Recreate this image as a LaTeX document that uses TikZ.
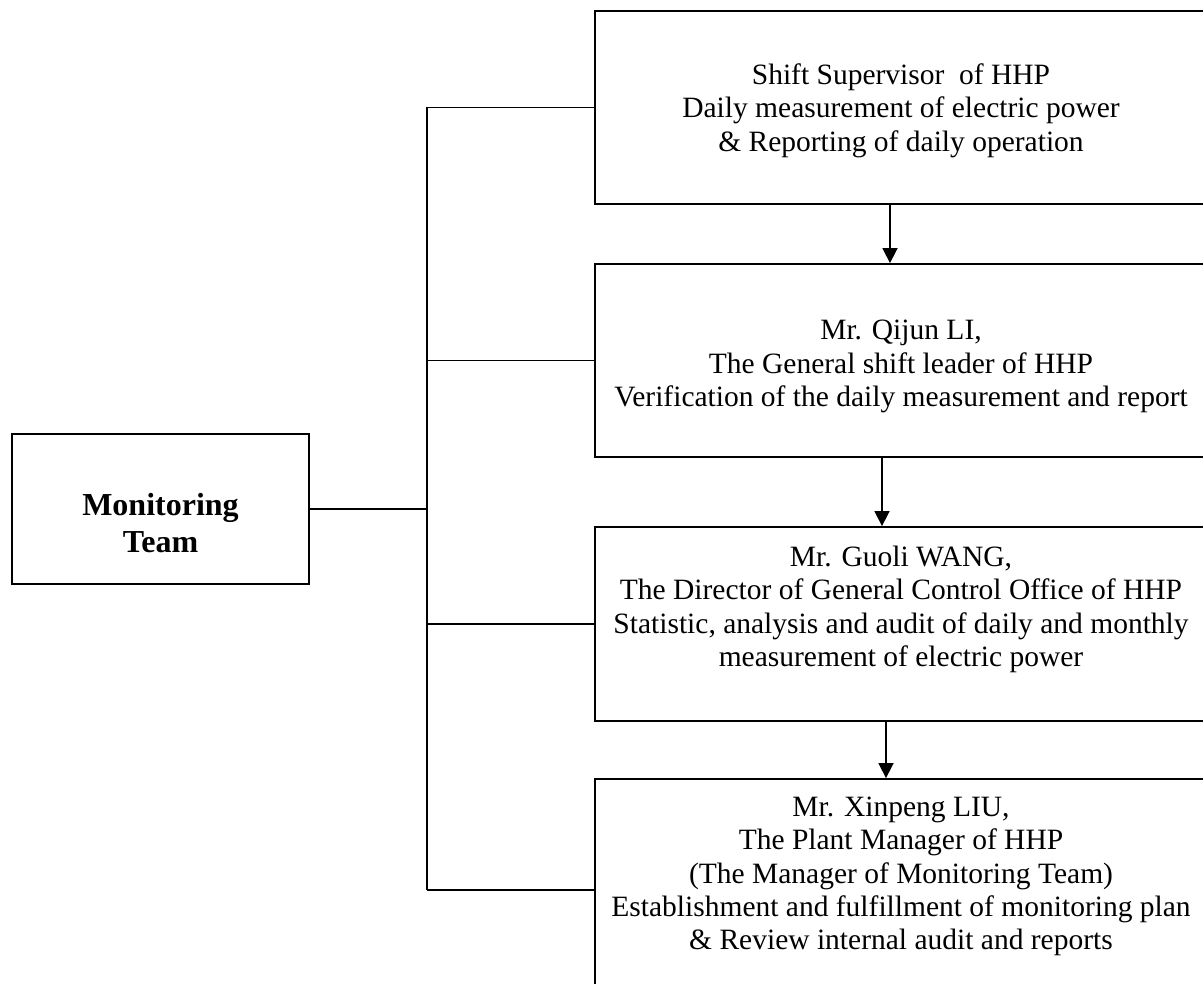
\documentclass[tikz,border=0pt]{standalone}
\usepackage{fontspec}
\setmainfont{Liberation Serif}
\usetikzlibrary{arrows.meta,positioning,calc}

\begin{document}
\begin{tikzpicture}[x=1pt,y=-1pt,
        teambox/.style={draw, rectangle, line width=1.8pt, minimum width=297pt, minimum height=150pt},
        teamtext/.style={align=center, font=\fontsize{32}{37}\selectfont\bfseries},
        dutybox/.style={draw, rectangle, line width=1.8pt, minimum width=612pt},
        dutytext/.style={align=center, font=\fontsize{29.5}{33.4}\selectfont},
        link/.style={line width=1.6pt},
        arrow/.style={-{Triangle[width=15pt,length=15pt]}, line width=1.6pt}
    ]
    \useasboundingbox (0,0) rectangle (1203,984);
    \clip (0,0) rectangle (1203,984);

    \node[teambox] (team) at (160.5,509) {};
    \node[teamtext] (teamlabel) at ([yshift=-14pt]team.center) {Monitoring\\Team};

    \node[dutybox, minimum height=193pt] (shift) at (901,107.5) {};
    \node[dutybox, minimum height=193pt] (leader) at (901,360.5) {};
    \node[dutybox, minimum height=194pt] (director) at (901,624) {};
    \node[dutybox, minimum height=222pt] (manager) at (901,890) {};

    \node[dutytext] (shiftlabel) at ([yshift=-3pt]shift.center) {Shift Supervisor~ of HHP\\Daily measurement of electric power\\\& Reporting of daily operation};
    \node[dutytext] (leaderlabel) at ([yshift=-6pt]leader.center) {Mr. Qijun LI,\\The General shift leader of HHP\\Verification of the daily measurement and report};
    \node[dutytext] (directorlabel) at ([yshift=1pt]director.center) {Mr. Guoli WANG,\\The Director of General Control Office of HHP\\Statistic, analysis and audit of daily and monthly\\measurement of electric power\\\mbox{}};
    \node[dutytext] (managerlabel) at (manager.center) {Mr. Xinpeng LIU,\\The Plant Manager of HHP\\(The Manager of Monitoring Team)\\Establishment and fulfillment of monitoring plan\\\& Review internal audit and reports\\\mbox{}};

    % branch lines
    \coordinate (trunk) at (427,0);
    \draw[link] (team.east) -- (team.east -| trunk);
    \draw[link] (shift.west -| trunk) -- (manager.west -| trunk);
    \foreach \b in {shift,leader,director,manager}
        \draw[link] (\b.west -| trunk) -- (\b.west);

    % reporting chain
    \draw[arrow] ([xshift=-11pt]shift.south) -- ([xshift=-11pt]leader.north);
    \draw[arrow] ([xshift=-19pt]leader.south) -- ([xshift=-19pt]director.north);
    \draw[arrow] ([xshift=-15pt]director.south) -- ([xshift=-15pt]manager.north);
\end{tikzpicture}
\end{document}
